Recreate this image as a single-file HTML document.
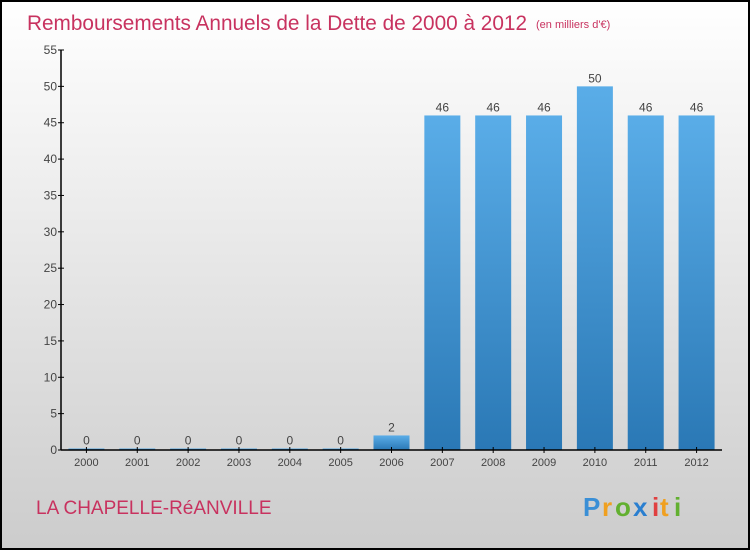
<!DOCTYPE html>
<html><head><meta charset="utf-8"><style>
body{margin:0;width:750px;height:550px;overflow:hidden}
svg{display:block;font-family:"Liberation Sans",sans-serif}
</style></head><body>
<svg width="750" height="550">
<defs>
<linearGradient id="bg" x1="0" y1="0" x2="0" y2="1"><stop offset="0" stop-color="#ffffff"/><stop offset="1" stop-color="#cccccc"/></linearGradient>
<linearGradient id="bar" x1="0" y1="0" x2="0" y2="1"><stop offset="0" stop-color="#5aade8"/><stop offset="1" stop-color="#2a78b5"/></linearGradient>
</defs>
<rect x="1" y="1" width="748" height="548" fill="url(#bg)" stroke="#000" stroke-width="2"/>
<text x="27" y="30" font-size="21" fill="#c8325f" textLength="500" lengthAdjust="spacingAndGlyphs">Remboursements Annuels de la Dette de 2000 à 2012</text>
<text x="536" y="28" font-size="11" fill="#c8325f">(en milliers d'€)</text>
<g id="plot"></g>
<text x="36" y="514" font-size="19" fill="#c8325f">LA CHAPELLE-RéANVILLE</text>
<g font-size="26" font-weight="bold">
<text x="583" y="516" fill="#3a8fd6">P</text><text x="602" y="516" fill="#f0a020">r</text><text x="615" y="516" fill="#62b030">o</text><text x="633" y="516" fill="#2a7fd0">x</text><text x="652" y="516" fill="#e04040">i</text><text x="660" y="516" fill="#f0a020">t</text><text x="674" y="516" fill="#62b030">i</text>
</g>
</svg>
<script>
const categories=["2000","2001","2002","2003","2004","2005","2006","2007","2008","2009","2010","2011","2012"];
const values=[0,0,0,0,0,0,2,46,46,46,50,46,46];
const yTicks=[0,5,10,15,20,25,30,35,40,45,50,55];
const NS="http://www.w3.org/2000/svg";
const g=document.getElementById('plot');
const x0=61,x1=722,yBase=450,yTop=50,yMax=55;
const band=(x1-x0)/categories.length;
const y=v=>yBase-(v/yMax)*(yBase-yTop);
const xc=i=>x0+band*(i+0.5);
function mk(t,a,txt){const e=document.createElementNS(NS,t);for(const k in a)e.setAttribute(k,a[k]);if(txt!==undefined)e.textContent=txt;g.appendChild(e);return e;}
values.forEach((v,i)=>{
 const h=Math.max(yBase-y(v),1.5);
 const r=mk('rect',{x:xc(i)-18,y:yBase-h,width:36,height:h,fill:'url(#bar)'});
 
 
 const t=mk('text',{x:xc(i),y:yBase-h-4,'font-size':12,fill:'#444','text-anchor':'middle'},String(v));
 
 
 const tk=mk('line',{x1:xc(i),x2:xc(i),y1:yBase-3,y2:yBase+3,stroke:'#000'});
 
 
 const l=mk('text',{x:xc(i),y:yBase+16,'font-size':11,fill:'#444','text-anchor':'middle'},categories[i]);
 
 
});
yTicks.forEach(v=>{
 const tk=mk('line',{x1:x0-3,x2:x0+3,y1:y(v),y2:y(v),stroke:'#000'});
 
 
 const l=mk('text',{x:x0-4,y:y(v)+4,'font-size':12,fill:'#444','text-anchor':'end'},String(v));
 
 
});
const ya=mk('line',{x1:x0,x2:x0,y1:yTop,y2:yBase,stroke:'#000','stroke-width':1.5});


const xa=mk('line',{x1:x0,x2:x1,y1:yBase,y2:yBase,stroke:'#000','stroke-width':1.5});


</script>
</body></html>
